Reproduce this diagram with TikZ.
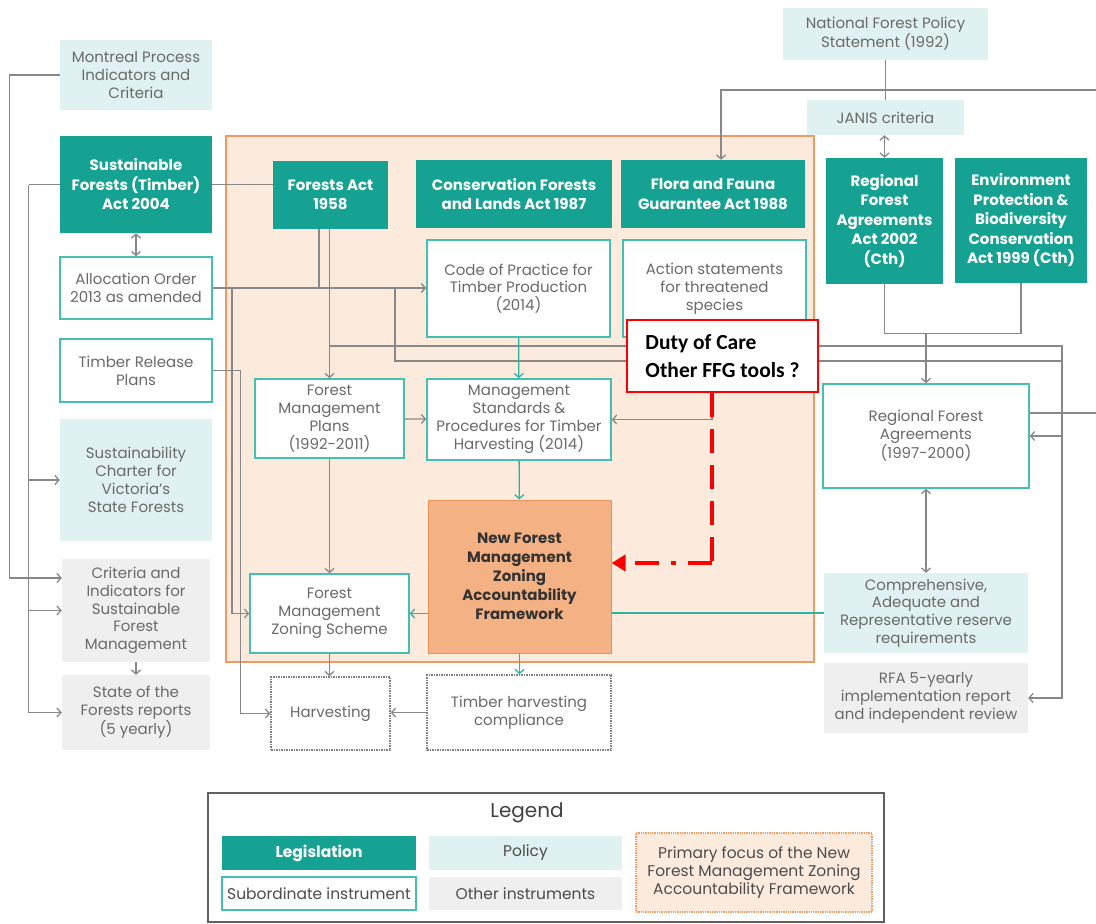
\documentclass[tikz,border=0pt]{standalone}
\usepackage{fontspec}
\setmainfont{Poppins}
\newfontfamily\calibri{Carlito}
\usetikzlibrary{arrows.meta,calc}

\definecolor{legis}{HTML}{15A293}
\definecolor{policy}{HTML}{DFF1F0}
\definecolor{other}{HTML}{EFEFEF}
\definecolor{subline}{HTML}{45BFB1}
\definecolor{focusfill}{HTML}{FCEBDD}
\definecolor{focusline}{HTML}{EF9A64}
\definecolor{nfmfill}{HTML}{F4B183}
\definecolor{nfmline}{HTML}{E8935A}
\definecolor{conn}{HTML}{888888}
\definecolor{txt}{HTML}{6A6A6A}
\definecolor{tealconn}{HTML}{2DB3A4}
\definecolor{legframe}{HTML}{606060}

\tikzset{
  dim/.style 2 args={minimum width=#1pt, minimum height=#2pt},
  box/.style={inner sep=0pt, align=center, text=txt, font=\fontsize{15}{17.8}\selectfont},
  legbox/.style={fill=legis, text=white, font=\fontsize{15}{19.5}\selectfont\bfseries},
  polbox/.style={fill=policy},
  subbox/.style={fill=white, draw=subline, line width=1.6pt},
  othbox/.style={fill=other},
  outbox/.style={fill=white, draw=gray, densely dotted, line width=1.5pt},
  focbox/.style={fill=nfmfill, draw=nfmline, line width=1pt, text=black!80, font=\fontsize{15}{19}\selectfont\bfseries},
  lgfoc/.style={fill=focusfill, draw=focusline, densely dotted, line width=1.3pt, text=black!75},
  lgtext/.style={text=black!70, font=\fontsize{15.5}{18}\selectfont},
  dutybox/.style={fill=white, draw=red, line width=2.8pt, align=left, text=black, font=\calibri\bfseries\fontsize{21.5}{28}\selectfont},
  ln/.style={draw=conn, line width=1.3pt},
  ar/.style={ln, -{Straight Barb[length=4pt,width=9pt]}},
  ar2/.style={ln, {Straight Barb[length=4pt,width=9pt]}-{Straight Barb[length=4pt,width=9pt]}},
  tl/.style={draw=tealconn, line width=1.3pt},
  tar/.style={tl, -{Straight Barb[length=4pt,width=9pt]}}
}

\begin{document}
\begin{tikzpicture}[x=1pt,y=-1pt]
    \useasboundingbox (0,0) rectangle (1096,924);
    \filldraw[fill=focusfill, draw=focusline, line width=1.5pt] (226,136) rectangle (814,662);

    \node[box, polbox, dim={152}{70}] (mont) at (136,75) {Montreal Process\\Indicators and\\Criteria};
    \node[box, legbox, dim={152}{97}] (sfta) at (136,184.5) {Sustainable\\Forests (Timber)\\Act 2004};
    \node[box, subbox, dim={152}{62}] (alloc) at (136,288) {Allocation Order\\2013 as amended};
    \node[box, subbox, dim={152}{63}] (trp) at (136,370.5) {Timber Release\\Plans};
    \node[box, polbox, dim={152}{122}] (charter) at (136,480) {Sustainability\\Charter for\\Victoria’s\\State Forests};
    \node[box, othbox, dim={148}{103}] (crit) at (136,610.5) {Criteria and\\Indicators for\\Sustainable\\Forest\\Management};
    \node[box, othbox, dim={148}{75}] (sofr) at (136,712.5) {State of the\\Forests reports\\(5 yearly)};

    \node[box, legbox, dim={115}{68}] (fa) at (330.5,195) {Forests Act\\1958};
    \node[box, legbox, dim={196}{68}] (cfl) at (514,194) {Conservation Forests\\and Lands Act 1987};
    \node[box, legbox, dim={184}{68}] (ffg) at (713,194) {Flora and Fauna\\Guarantee Act 1988};
    \node[box, subbox, dim={183}{97}] (cop) at (518.5,288.5) {Code of Practice for\\Timber Production\\(2014)};
    \node[box, subbox, dim={183}{97}] (act) at (714.5,288.5) {Action statements\\for threatened\\species};
    \node[box, subbox, dim={149}{79}] (fmp) at (329.5,418.5) {Forest\\Management\\Plans\\(1992-2011)};
    \node[box, subbox, dim={184}{81}] (mss) at (519,419.5) {Management\\Standards \&\\Procedures for Timber\\Harvesting (2014)};
    \node[box, focbox, dim={183}{153}] (nfm) at (519.5,576.5) {New Forest\\Management\\Zoning\\Accountability\\Framework};
    \node[box, subbox, dim={159}{79}] (fmzs) at (329.5,613.5) {Forest\\Management\\Zoning Scheme};
    \node[box, outbox, dim={119}{73}] (harv) at (330.5,713.5) {Harvesting};
    \node[box, outbox, dim={184}{75}] (thc) at (519,712.5) {Timber harvesting\\compliance};

    \node[box, polbox, dim={205}{52}] (nfps) at (885.5,34) {National Forest Policy\\Statement (1992)};
    \node[box, polbox, dim={157}{35}] (janis) at (885.5,117.5) {JANIS criteria};
    \node[box, legbox, dim={117}{126}] (rfaa) at (884.5,221) {Regional\\Forest\\Agreements\\Act 2002\\(Cth)};
    \node[box, legbox, dim={132}{125}] (epbc) at (1021,220.5) {Environment\\Protection \&\\Biodiversity\\Conservation\\Act 1999 (Cth)};
    \node[box, subbox, dim={206}{104}] (rfa) at (926,436) {Regional Forest\\Agreements\\(1997-2000)};
    \node[box, polbox, dim={204}{80}] (car) at (926,613) {Comprehensive,\\Adequate and\\Representative reserve\\requirements};
    \node[box, othbox, dim={204}{70}] (rfa5) at (926,698) {RFA 5-yearly\\implementation report\\and independent review};

    \draw[ar] (mont.west) -- ++(-50,0) |- (crit.west |- 0,578);
    \draw[ln] (sfta.west) -- ++(-31,0) coordinate (sfl);
    \draw[ar] (sfl) |- (sofr.west);
    \draw[ar] (sfl |- charter.west) -- (charter.west);
    \draw[ar] (sfl |- crit.west) -- (crit.west);
    \draw[ar] (crit) -- (sofr);
    \draw[ln] (sfta.east) -- (sfta.east -| fa.west);
    \draw[ar2] (sfta) -- (alloc);

    \coordinate (j1) at (319,288);
    \coordinate (j2) at (395,288);
    \coordinate (rr) at (1062,346);
    \draw[ar] (alloc.east) -- (alloc.east -| cop.west);
    \draw[ln] (fa.south -| j1) -- (j1);
    \draw[ar] (fa.south -| fmp.north) -- (fmp.north);
    \draw[ar] (fmp.north |- rr) -- (rr) |- (rfa5.east);
    \draw[ar] (rr |- rfa.east) -- (rfa.east);
    \draw[ln] (j2) -- (j2 |- 0,361) -- (rr |- 0,361);
    \draw[ar] (alloc.east -| 232,0) |- (fmzs.west);
    \draw[ar] (trp.east) -- ++(28,0) |- (harv.west);

    \draw[ar] (fmp) -- (mss);
    \draw[tar] (cop) -- (mss);
    \draw[tar] (mss) -- (nfm);
    \draw[ar] (act.south -| 712,0) |- (mss.east);
    \draw[tar] (nfm.west |- fmzs.east) -- (fmzs.east);
    \draw[tl] (car.west) -- (car.west -| nfm.east);
    \draw[ar] (fmp) -- (fmzs);
    \draw[ar] (fmzs.south) -- (fmzs.south |- harv.north);
    \draw[tar] (nfm.south) -- (nfm.south |- thc.north);
    \draw[ar] (thc.west) -- (thc.west -| harv.east);

    \coordinate (tr) at (1096,90);
    \coordinate (re) at (1096,413);
    \draw[ar] (tr) -| ([xshift=8pt]ffg.north);
    \draw[ln] (nfps) -- (janis);
    \draw[ar2] (janis.south -| rfaa.north) -- (rfaa.north);
    \draw[ln] (rfaa.south) -- ++(0,49) coordinate (j3) -| (epbc.south);
    \draw[ar] (j3 -| rfa.north) -- (rfa.north);
    \draw[ar2] (rfa) -- (car);
    \draw[ln] (rfa.east |- re) -- (re);

    \node[dutybox, dim={191}{72}] (duty) at (722.5,356) {Duty of Care\\Other FFG tools ?};
    \coordinate (rc) at (712,563);
    \draw[red, line width=4.5pt, dash pattern=on 24pt off 12pt] (duty.south -| rc) -- (rc);
    \draw[red, line width=4.5pt, dash pattern=on 24pt off 12pt on 5pt off 12pt, -{Triangle[length=14pt,width=16pt]}] (rc) -- (rc -| nfm.east);

    \draw[legframe, line width=1.5pt] (208,793) rectangle (884,922);
    \node[text=black!75, font=\fontsize{20}{22}\selectfont] (lgt) at (527,813) {Legend};
    \node[box, legbox, dim={194}{34}, font=\fontsize{15.5}{18}\selectfont\bfseries] (lgleg) at (319,853) {Legislation};
    \node[box, polbox, lgtext, dim={193}{34}] (lgpol) at (525.5,853) {Policy};
    \node[box, subbox, lgtext, dim={194}{33}] (lgsub) at (319,893.5) {Subordinate instrument};
    \node[box, othbox, lgtext, dim={193}{33}] (lgoth) at (525.5,893.5) {Other instruments};
    \node[box, lgfoc, lgtext, dim={236}{79}] (lgfocus) at (754,872.5) {Primary focus of the New\\Forest Management Zoning\\Accountability Framework};
\end{tikzpicture}
\end{document}
